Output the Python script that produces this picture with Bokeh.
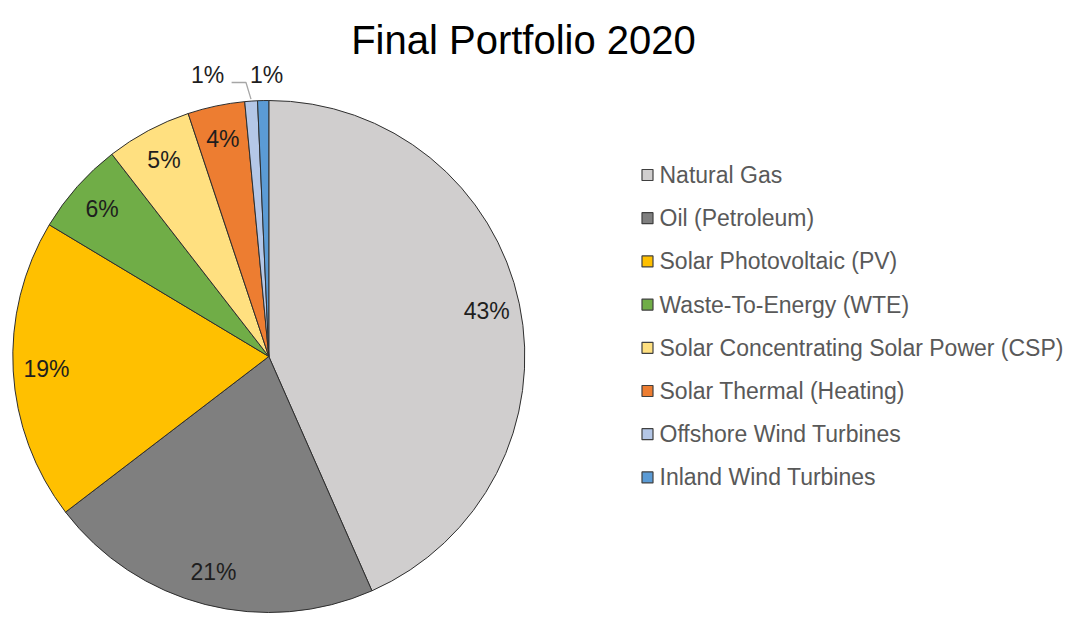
import math
from bokeh.plotting import figure
from bokeh.models import Range1d, ColumnDataSource
from bokeh.embed import file_html
from bokeh.resources import INLINE
from bokeh.core.properties import value

# ---- data ----
title_text = "Final Portfolio 2020"
categories = [
    "Natural Gas",
    "Oil (Petroleum)",
    "Solar Photovoltaic (PV)",
    "Waste-To-Energy (WTE)",
    "Solar Concentrating Solar Power (CSP)",
    "Solar Thermal (Heating)",
    "Offshore Wind Turbines",
    "Inland Wind Turbines",
]
shares = [43.4, 21.2, 19.0, 5.9, 5.4, 3.6, 0.8, 0.7]
colors = ["#D0CECE", "#7F7F7F", "#FFC000", "#70AD47",
          "#FFE080", "#ED7D31", "#B4C7E7", "#5B9BD5"]

# ---- layout (screen pixel coordinates; data y = PAGE_H - screen y) ----
W, H = 1070, 613
PAGE_H = 629
X0 = 0
Y0 = 0
FONT = "Liberation Sans"


def Y(screen_y):
    return PAGE_H - screen_y


R = 256.0
CX, CY = 268.3, Y(356.0)
INSIDE_F = 0.87

p = figure(width=W, height=H, output_backend="svg", toolbar_location=None,
           x_range=Range1d(X0, X0 + W), y_range=Range1d(PAGE_H - Y0 - H, PAGE_H - Y0),
           min_border=0)
p.axis.visible = False
p.grid.visible = False
p.outline_line_color = None
p.background_fill_color = "white"
p.border_fill_color = "white"

total = sum(shares)
starts, ends, mids = [], [], []
cum = 0.0
for s in shares:
    a = cum / total
    cum += s
    b = cum / total
    starts.append(math.pi / 2 - 2 * math.pi * a)
    ends.append(math.pi / 2 - 2 * math.pi * b)
    mids.append((a + b) / 2)

src = ColumnDataSource(dict(start=starts, end=ends, color=colors, cat=categories))
p.wedge(x=CX, y=CY, radius=R, start_angle="start", end_angle="end",
        direction="clock", fill_color="color", line_color="#2E2E2E",
        line_width=1, source=src)

# ---- data labels ----
labels = [f"{round(s / total * 100)}%" for s in shares]
in_x, in_y, in_t = [], [], []
small = []
for i, m in enumerate(mids):
    th = 2 * math.pi * m
    if shares[i] / total >= 0.02:
        in_x.append(CX + R * INSIDE_F * math.sin(th))
        in_y.append(CY + R * INSIDE_F * math.cos(th))
        in_t.append(labels[i])
    else:
        small.append(i)

p.text(x=in_x, y=in_y, text=in_t, text_font=value(FONT), text_font_size="23px",
       text_color="#1E1E1E", text_align="center", text_baseline="middle")

# outside labels for the tiny slices, laid out leftwards from the last one
OUT_Y = CY + R + 26
last = small[-1]
th_last = 2 * math.pi * mids[last]
anchor_x = CX + (R + 26) * math.sin(th_last) + 4
SPACING = 59
out_x, out_y, out_t = [], [], []
for k, i in enumerate(small):
    lx = anchor_x - SPACING * (len(small) - 1 - k)
    out_x.append(lx)
    out_y.append(OUT_Y)
    out_t.append(labels[i])
    if i != last:
        th = 2 * math.pi * mids[i]
        ex = CX + (R + 2) * math.sin(th)
        ey = CY + (R + 2) * math.cos(th)
        elbow_x = ex - 5
        elbow_y = OUT_Y - 8
        p.line(x=[lx + 24, elbow_x, ex], y=[elbow_y, elbow_y, ey],
               line_color="#A6A6A6", line_width=1.3)
p.text(x=out_x, y=out_y, text=out_t, text_font=value(FONT), text_font_size="23px",
       text_color="#1E1E1E", text_align="center", text_baseline="middle")

# ---- title ----
p.text(x=[523], y=[Y(39.5)], text=[title_text], text_font=value(FONT),
       text_font_size="40px", text_color="#000000", text_align="center",
       text_baseline="alphabetic")

# ---- legend ----
LEG_X, LEG_Y0, LEG_DY, SQ = 647, 174.5, 43.2, 12
ly = [Y(LEG_Y0 + LEG_DY * i) for i in range(len(categories))]
lsrc = ColumnDataSource(dict(x=[LEG_X] * len(categories), y=ly, color=colors,
                             tx=[LEG_X + 12] * len(categories), cat=categories))
p.rect(x="x", y="y", width=SQ - 1, height=SQ - 1, fill_color="color",
       line_color="#404040", line_width=1.2, source=lsrc)
p.text(x="tx", y="y", text="cat", text_font=value(FONT), text_font_size="23px",
       text_color="#595959", text_align="left", text_baseline="middle", source=lsrc)

open("out.html", "w").write(file_html(p, INLINE))
